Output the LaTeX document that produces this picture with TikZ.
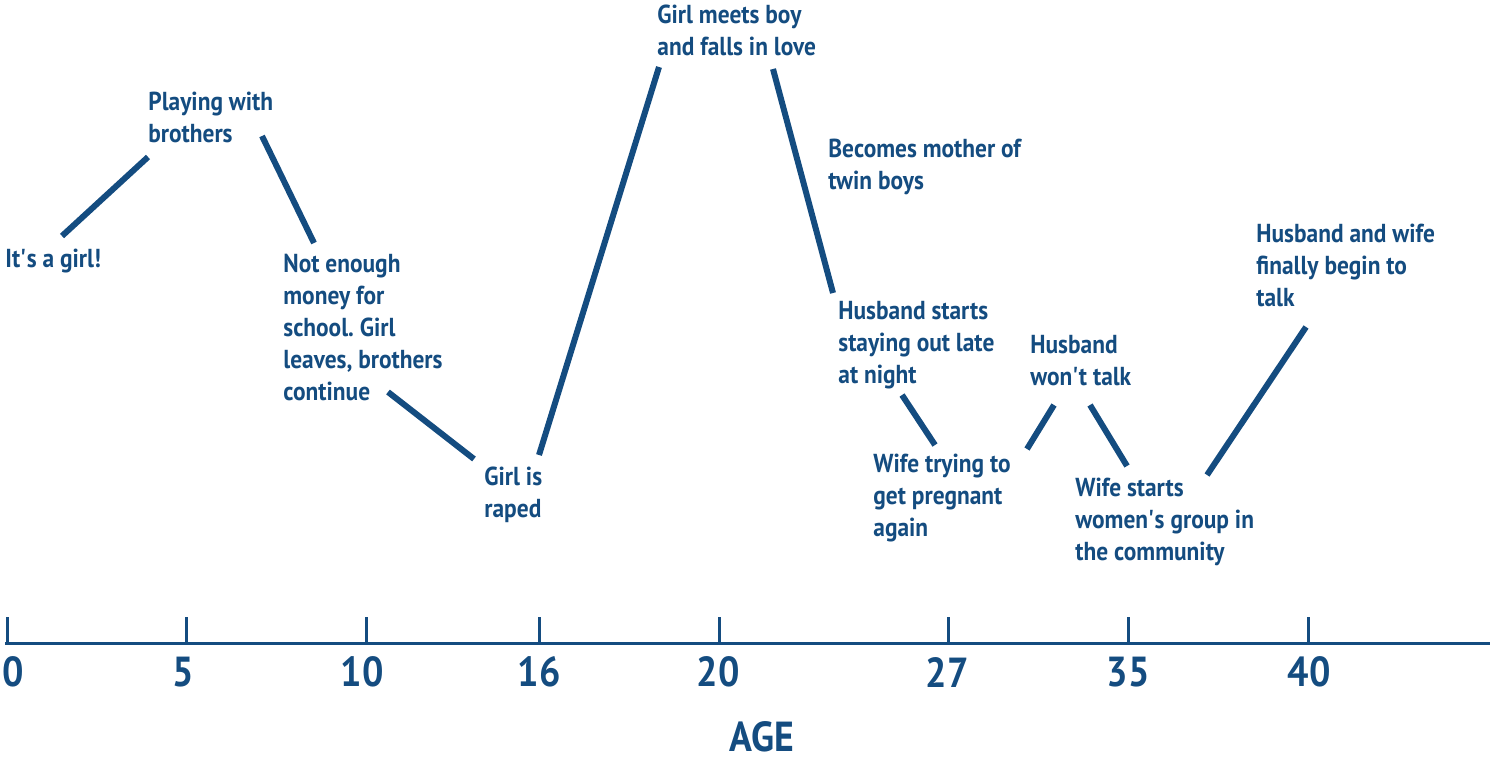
\documentclass[tikz,border=0pt]{standalone}
\usepackage{fontspec}
\setmainfont{PT Sans}[FakeStretch=0.9]
\definecolor{lineblue}{RGB}{20,76,128}

\begin{document}
\frenchspacing
\begin{tikzpicture}[x=0.5pt,y=-0.5pt,
	event/.style={anchor=north west,inner sep=0pt,align=left,text=lineblue,
		font=\fontsize{13}{16}\selectfont\bfseries},
	link/.style={lineblue,line width=3pt},
	agelabel/.style={text=lineblue,inner sep=0pt,font=\fontsize{21}{24}\selectfont\bfseries}]
	\useasboundingbox (0,0) rectangle (1491,760);
	% life events
	\node[event] (girl)     at (5,249)    {It\textquotesingle s a girl!};
	\node[event] (play)     at (148,92)   {Playing with\\brothers};
	\node[event] (school)   at (283,254)  {Not enough\\money for\\school. Girl\\leaves, brothers\\continue};
	\node[event] (raped)    at (484,467)  {Girl is\\raped};
	\node[event] (love)     at (657,5)    {Girl meets boy\\and falls in love};
	\node[event] (twins)    at (828,139)  {Becomes mother of\\twin boys};
	\node[event] (late)     at (838,301)  {Husband starts\\staying out late\\at night};
	\node[event] (pregnant) at (873,454)  {Wife trying to\\get pregnant\\again};
	\node[event] (silent)   at (1030,335) {Husband\\won\textquotesingle t talk};
	\node[event] (group)    at (1075,478) {Wife starts\\women\textquotesingle s group in\\the community};
	\node[event] (talk)     at (1256,224) {Husband and wife\\finally begin to\\talk};
	% line ends
	\coordinate (girl-up)      at (62,236);
	\coordinate (play-left)    at (148,157);
	\coordinate (play-right)   at (262,136);
	\coordinate (school-up)    at (314,243);
	\coordinate (school-down)  at (388,392);
	\coordinate (raped-left)   at (474,459);
	\coordinate (raped-right)  at (539,455);
	\coordinate (love-left)    at (659,67);
	\coordinate (love-right)   at (773,69);
	\coordinate (late-up)      at (833,293);
	\coordinate (late-down)    at (902,395);
	\coordinate (preg-left)    at (935,445);
	\coordinate (preg-right)   at (1027,449);
	\coordinate (silent-left)  at (1054,405);
	\coordinate (silent-right) at (1090,405);
	\coordinate (group-left)   at (1127,466);
	\coordinate (group-right)  at (1207,475);
	\coordinate (talk-down)    at (1306,327);
	\draw[link] (girl-up) -- (play-left);
	\draw[link] (play-right) -- (school-up);
	\draw[link] (school-down) -- (raped-left);
	\draw[link] (raped-right) -- (love-left);
	\draw[link] (love-right) -- (late-up);
	\draw[link] (late-down) -- (preg-left);
	\draw[link] (preg-right) -- (silent-left);
	\draw[link] (silent-right) -- (group-left);
	\draw[link] (group-right) -- (talk-down);
	% age axis
	\draw[lineblue,line width=1.5pt] (5,643) -- (1490,643);
	\foreach \x/\lx/\a in {7/13/0,186/183/5,366/362/10,539/539/16,719/718/20,948/947/27,1128/1128/35,1308/1309/40}
	{
		\draw[lineblue,line width=1.5pt] (\x,643) -- (\x,617);
		\node[agelabel] (age\a) at (\lx,672) {\a};
	}
	\node[agelabel] (age) at (762,737) {AGE};
\end{tikzpicture}
\end{document}
